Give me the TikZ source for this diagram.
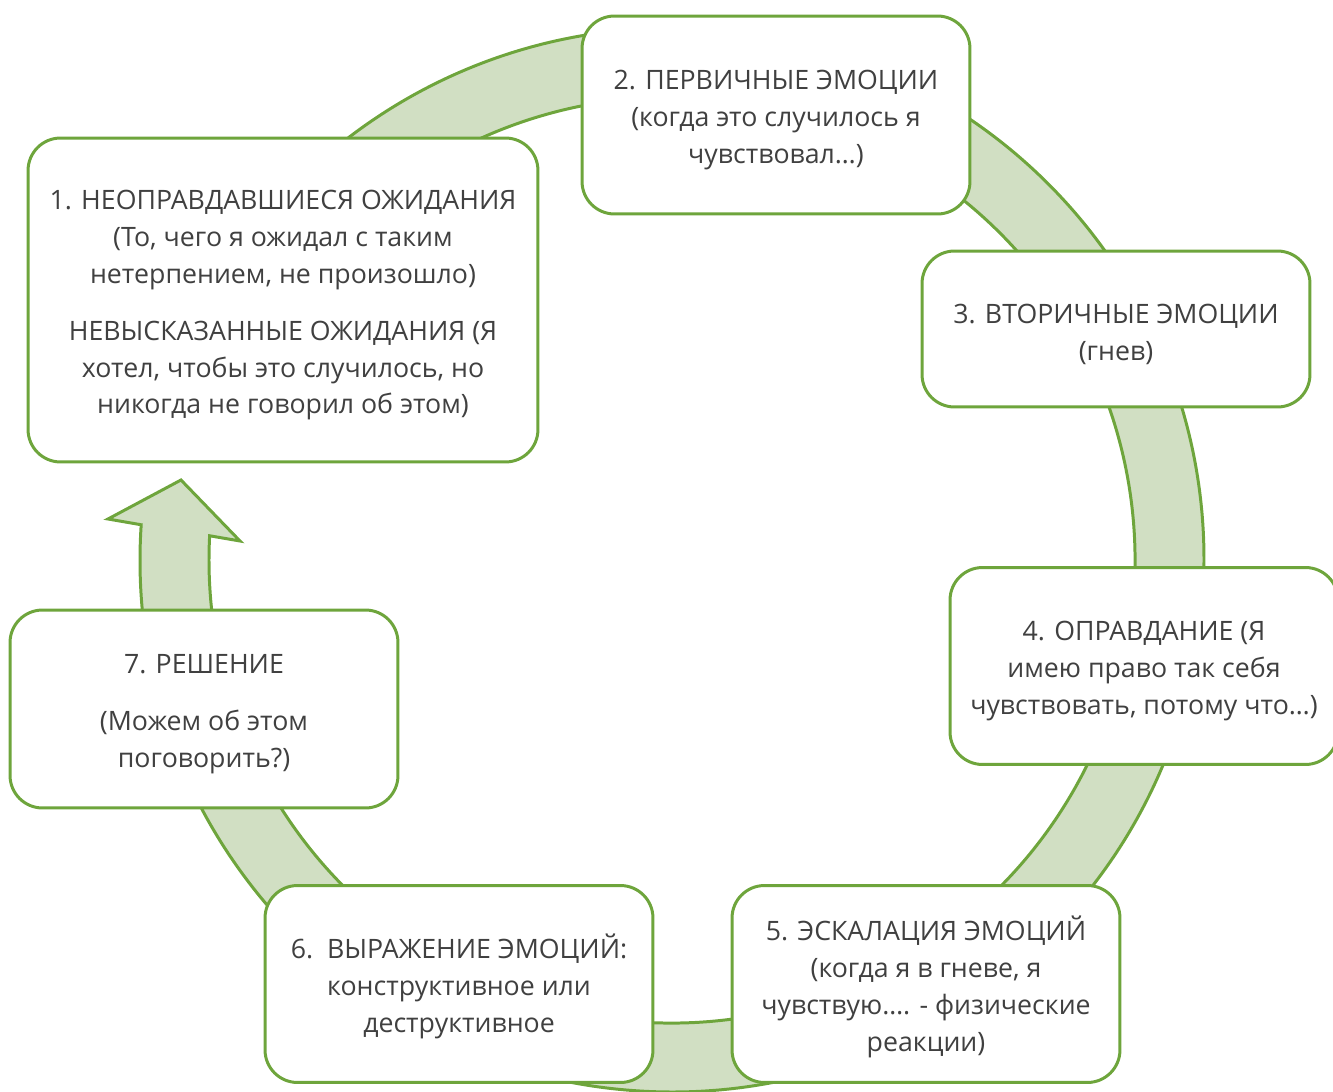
\documentclass[tikz,border=0pt]{standalone}
\usepackage{fontspec}
\setmainfont{Open Sans}
\usetikzlibrary{positioning}
\definecolor{cycgreen}{RGB}{110,165,60}
\definecolor{cycfill}{RGB}{209,223,195}
\definecolor{cyctext}{RGB}{64,64,64}
\newcommand{\topstrut}{\rule{0pt}{17pt}}
\tikzset {
    style box/.style={
        fill=white,
        draw=cycgreen,
        line width=1.7pt,
        rectangle, % Set the shape as a rounded rectangle
        rounded corners=0.65cm,
        inner sep=0pt,
        align=center,
        text=cyctext,
        font=\fontsize{15.2}{21}\selectfont,
    },
    style band/.style={
        fill=cycfill,
        draw=cycgreen,
        line width=1.7pt,
    },
}
\begin{document}
\begin{tikzpicture}[x=0.02cm, y=0.02cm]
    \useasboundingbox (0,0) rectangle (1333,-1092);
    \coordinate (centre) at (672,-560);

    % the ring arrow behind the boxes
    \draw[style band] ([shift={(centre)}]150:463) arc[start angle=150, end angle=-183, radius=463]
        -- (240,-541) -- (181,-480) -- (108,-519)
        -- ([shift={(centre)}]-183.8:532) arc[start angle=-183.8, end angle=150, radius=532] -- cycle;

    \node[style box, minimum width=10.2cm, minimum height=6.48cm] at (283,-300) (expect) {\topstrut 1. НЕОПРАВДАВШИЕСЯ ОЖИДАНИЯ\\(То, чего я ожидал с таким\\нетерпением, не произошло)\\[0.4cm]НЕВЫСКАЗАННЫЕ ОЖИДАНИЯ (Я\\хотел, чтобы это случилось, но\\никогда не говорил об этом)};
    \node[style box, minimum width=7.76cm, minimum height=3.96cm] at (776,-115) (primary) {\topstrut 2. ПЕРВИЧНЫЕ ЭМОЦИИ\\(когда это случилось я\\чувствовал…)};
    \node[style box, minimum width=7.76cm, minimum height=3.12cm] at (1116,-329) (secondary) {\topstrut 3. ВТОРИЧНЫЕ ЭМОЦИИ\\(гнев)};
    \node[style box, minimum width=7.76cm, minimum height=3.94cm] at (1144,-666) (justify) {\topstrut 4. ОПРАВДАНИЕ (Я\\имею право так себя\\чувствовать, потому что…)};
    \node[style box, minimum width=7.76cm, minimum height=3.94cm] at (926,-984) (escalate) {\topstrut 5. ЭСКАЛАЦИЯ ЭМОЦИЙ\\(когда я в гневе, я\\чувствую…. - физические\\реакции)};
    \node[style box, minimum width=7.76cm, minimum height=3.94cm] at (459,-984) (express) {\topstrut 6.\ \ ВЫРАЖЕНИЕ ЭМОЦИЙ:\\конструктивное или\\деструктивное};
    \node[style box, minimum width=7.76cm, minimum height=3.96cm] at (204,-709) (resolve) {\topstrut 7. РЕШЕНИЕ\\[0.4cm](Можем об этом\\поговорить?)};
\end{tikzpicture}
\end{document}
